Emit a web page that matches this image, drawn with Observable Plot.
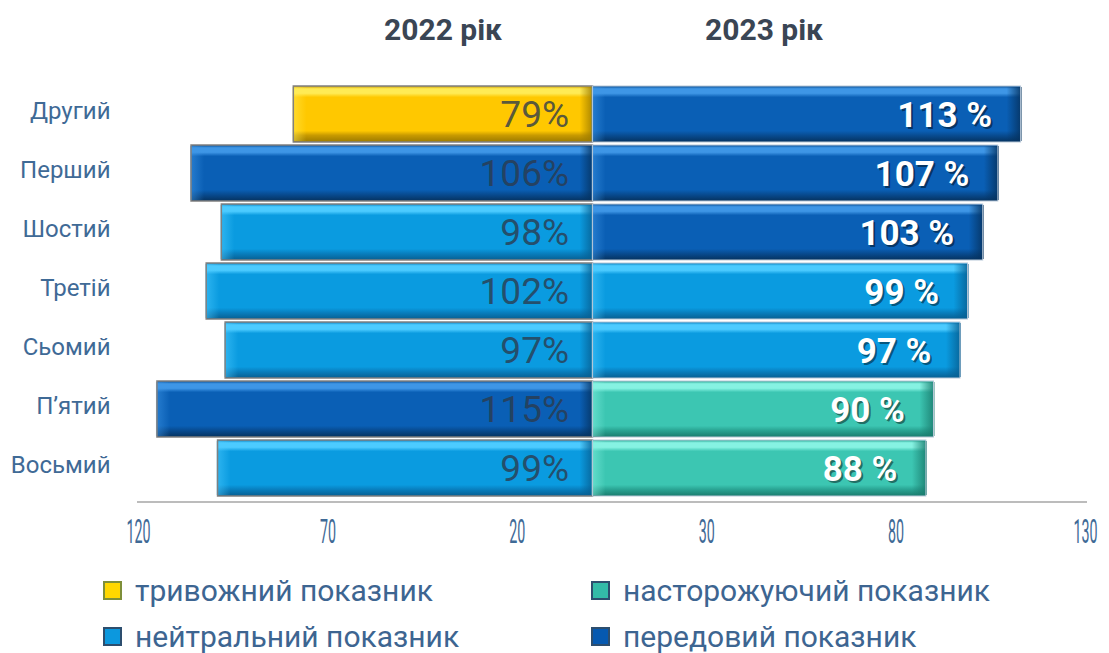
<!DOCTYPE html>
<html><head><meta charset="utf-8">
<script src="https://cdn.jsdelivr.net/npm/d3@7"></script>
<script src="https://cdn.jsdelivr.net/npm/@observablehq/plot@0.6"></script>
<style>
body{margin:0;background:#fff;font-family:Roboto,sans-serif;}
#wrap{position:relative;width:1109px;height:653px;overflow:hidden;background:#fff}
.hdr{position:absolute;top:12px;font-weight:bold;font-size:30px;color:#3a4554;transform:translateX(-50%);white-space:nowrap}
#chart{position:absolute;left:0;top:0}
.leg{position:absolute;display:flex;align-items:center;font-size:30px;color:#3d6591;white-space:nowrap;height:36px}
.sw{width:15px;height:15px;border:2px solid;margin-right:13px;flex:none}
</style></head>
<body>
<div id="wrap"></div>
<script>
const categories = ["Другий","Перший","Шостий","Третій","Сьомий","П’ятий","Восьмий"];
const values2022 = [79,106,98,102,97,115,99];
const values2023 = [113,107,103,99,97,90,88];
const status2022 = ["alarm","leading","neutral","neutral","neutral","leading","neutral"];
const status2023 = ["leading","leading","leading","neutral","neutral","caution","caution"];
const xTicks = [-120,-70,-20,30,80,130];
const headers = ["2022 рік","2023 рік"];
const legendItems = [
  {key:"alarm", label:"тривожний показник"},
  {key:"caution", label:"насторожуючий показник"},
  {key:"neutral", label:"нейтральний показник"},
  {key:"leading", label:"передовий показник"}
];

const palette = {
  alarm:   {base:"#FFC800", light:"#FFEB55", dark:"#9C7A00", edge:"#C89A00", sw:"#FFD700", swb:"#7E8F3A"},
  caution: {base:"#3CC6B2", light:"#86F2E2", dark:"#1A7C6E", edge:"#2AA594", sw:"#33BBA8", swb:"#2D4E6E"},
  neutral: {base:"#0A9BE0", light:"#4CCBFF", dark:"#075F92", edge:"#0880C0", sw:"#0C98DE", swb:"#2D4E6E"},
  leading: {base:"#0A5FB5", light:"#3E96E6", dark:"#05325F", edge:"#084C92", sw:"#0659B0", swb:"#2D4E6E"}
};

const left = categories.map((c,i)=>({cat:c, v:values2022[i], s:status2022[i]}));
const right = categories.map((c,i)=>({cat:c, v:values2023[i], s:status2023[i]}));

const grad = s => `url(#g-${s})`;
const capL = s => `url(#cl-${s})`;
const capR = s => `url(#cr-${s})`;

const chart = Plot.plot({
  width:1109, height:560,
  marginTop:81, marginBottom:58, marginLeft:138, marginRight:24,
  style:{fontFamily:"Roboto, sans-serif", background:"transparent"},
  x:{domain:[-120,130], label:null},
  y:{domain:categories, padding:0.05, label:null},
  color:{type:"identity"},
  marks:[
    // left bars
    Plot.barX(left,{y:"cat", x1:d=>-d.v, x2:0, fill:d=>grad(d.s)}),
    Plot.barX(left,{y:"cat", x1:d=>-d.v, x2:d=>-d.v, insetLeft:-1, insetRight:-13, insetTop:1, insetBottom:1, fill:d=>capL(d.s)}),
    Plot.barX(left,{y:"cat", x1:0, x2:0, insetLeft:-13, insetRight:-1, insetTop:1, insetBottom:1, fill:d=>capR(d.s)}),
    Plot.barX(left,{y:"cat", x1:d=>-d.v, x2:0, fill:"none", stroke:"#808080", strokeWidth:1.5}),
    // right bars
    Plot.barX(right,{y:"cat", x1:0, x2:d=>d.v, fill:d=>grad(d.s)}),
    Plot.barX(right,{y:"cat", x1:0, x2:0, insetLeft:-1, insetRight:-13, insetTop:1, insetBottom:1, fill:d=>capL(d.s)}),
    Plot.barX(right,{y:"cat", x1:d=>d.v, x2:d=>d.v, insetLeft:-14, insetRight:-1, insetTop:1, insetBottom:1, fill:d=>capR(d.s)}),
    Plot.barX(right,{y:"cat", x1:0, x2:d=>d.v, fill:"none", stroke:"#b8c8d8", strokeWidth:1}),
    // labels
    Plot.text(left,{y:"cat", x:0, text:d=>d.v+"%", textAnchor:"end", dx:-24, dy:1, fontSize:37, fill:"#2c3a4c", fillOpacity:0.8}),
    Plot.text(right,{y:"cat", x:"v", text:d=>d.v+" %", textAnchor:"end", dx:-27, dy:3, fontSize:35, fontWeight:"bold", fill:"#000", fillOpacity:0.45}),
    Plot.text(right,{y:"cat", x:"v", text:d=>d.v+" %", textAnchor:"end", dx:-29, dy:1, fontSize:35, fontWeight:"bold", fill:"#fff"}),
    // axes
    Plot.axisY({tickSize:0, tickPadding:28, dy:-3, fontSize:24, fill:"#3f6a96", label:null}),
    Plot.axisX({ticks:xTicks, tickFormat:d=>Math.abs(d), tickSize:0, tickPadding:16, fontSize:34, fill:"#3f6a96", label:null})
  ]
});

// gradients for bevel look
const svg = d3.select(chart);
const defs = svg.insert("defs",":first-child");
for (const [k,p] of Object.entries(palette)) {
  const g = defs.append("linearGradient").attr("id","g-"+k).attr("x1",0).attr("y1",0).attr("x2",0).attr("y2",1);
  [[0,p.edge],[0.05,p.light],[0.13,p.light],[0.2,p.base],[0.8,p.base],[0.88,p.edge],[1,p.dark]]
    .forEach(([o,c])=>g.append("stop").attr("offset",o).attr("stop-color",c));
  const cl = defs.append("linearGradient").attr("id","cl-"+k).attr("x1",0).attr("y1",0).attr("x2",1).attr("y2",0);
  [[0,p.light,0.55],[1,p.light,0]].forEach(([o,c,a])=>cl.append("stop").attr("offset",o).attr("stop-color",c).attr("stop-opacity",a));
  const cr = defs.append("linearGradient").attr("id","cr-"+k).attr("x1",0).attr("y1",0).attr("x2",1).attr("y2",0);
  [[0,p.dark,0],[1,p.dark,0.9]].forEach(([o,c,a])=>cr.append("stop").attr("offset",o).attr("stop-color",c).attr("stop-opacity",a));
}
// condensed tick labels
svg.selectAll('g[aria-label="x-axis tick label"] text').each(function(){
  const t = this.getAttribute("transform") || "";
  this.setAttribute("transform", t + " scale(0.42,1)");
});
// baseline
const xs = chart.scale("x");
svg.append("line").attr("x1",xs.apply(-120)-1).attr("x2",xs.apply(130)+2)
  .attr("y1",502).attr("y2",502).attr("stroke","#a6a6a6").attr("stroke-width",1.5);

const wrap = document.getElementById("wrap");
chart.id = "chart";
wrap.appendChild(chart);
headers.forEach((h,i)=>{
  const d = document.createElement("div");
  d.className="hdr"; d.textContent=h;
  d.style.left = (i===0?443:764)+"px";
  wrap.appendChild(d);
});
legendItems.forEach((it,i)=>{
  const d = document.createElement("div");
  d.className="leg";
  d.style.left = (i%2===0?103:591)+"px";
  d.style.top = (i<2?572:618)+"px";
  const p = palette[it.key];
  d.innerHTML = `<span class="sw" style="background:${p.sw};border-color:${p.swb}"></span><span>${it.label}</span>`;
  wrap.appendChild(d);
});
</script>
</body></html>
